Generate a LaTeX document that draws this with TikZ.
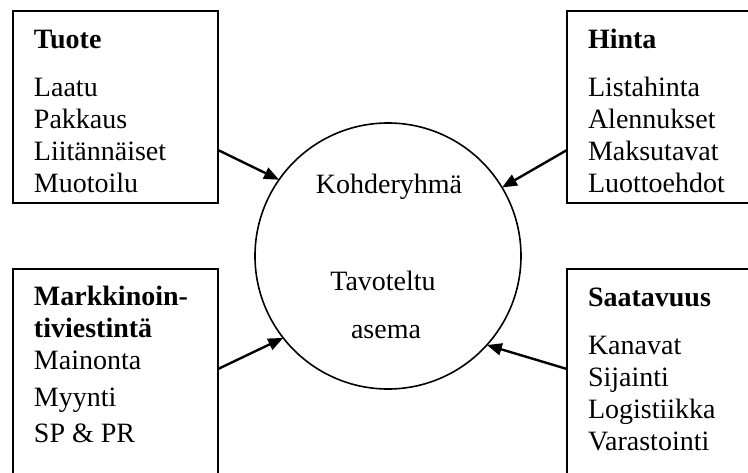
\documentclass[tikz,border=0pt]{standalone}
\usepackage{fontspec}
\setmainfont{Liberation Serif}
\usetikzlibrary{calc,arrows.meta}

\tikzset{
  panel/.style={draw, line width=1.8pt, rectangle, inner sep=0pt, outer sep=0pt, anchor=north west},
  core/.style={draw, line width=1.6pt, circle, inner sep=0pt, outer sep=0pt, minimum size=266pt},
  body/.style={inner sep=0pt, outer sep=0pt, anchor=base west, font=\fontsize{28}{32}\selectfont},
  mid/.style={inner sep=0pt, outer sep=0pt, anchor=base, font=\fontsize{28}{32}\selectfont},
  feed/.style={line width=2.4pt, -{Triangle[length=15pt,width=12pt]}}
}

\newcommand{\listbox}[1]{\parbox[t]{200pt}{\raggedright #1}}

\begin{document}
\begin{tikzpicture}[x=1pt, y=-1pt]
  \useasboundingbox (0,0) rectangle (748,472);
  \clip (0,0) rectangle (748,472);

  % the four surrounding boxes
  \node[panel, minimum width=205pt, minimum height=192pt] (tuote) at (13,11) {};
  \node[panel, minimum width=190pt, minimum height=192pt] (hinta) at (567,11) {};
  \node[panel, minimum width=205pt, minimum height=215pt] (mark) at (13,269) {};
  \node[panel, minimum width=190pt, minimum height=215pt] (saat) at (567,269) {};

  % their contents
  \node[body] (tuote-txt) at (34,48) {\listbox{\textbf{Tuote}\\[16.7pt]Laatu\\Pakkaus\\Liitännäiset\\Muotoilu}};
  \node[body] (hinta-txt) at (588,48) {\listbox{\textbf{Hinta}\\[16.7pt]Listahinta\\Alennukset\\Maksutavat\\Luottoehdot}};
  \node[body] (mark-txt) at (34,305) {\listbox{\textbf{Markkinoin-}\\\textbf{tiviestintä}\\Mainonta\\[5pt]Myynti\\[4pt]SP \& PR}};
  \node[body] (saat-txt) at (588,306) {\listbox{\textbf{Saatavuus}\\[16pt]Kanavat\\Sijainti\\Logistiikka\\Varastointi}};

  % central circle
  \node[core] (circ) at (388,256) {};
  \node[mid] (kohde) at (389,193) {Kohderyhmä};
  \node[mid] (tavo) at (383,290) {Tavoteltu};
  \node[mid] (asema) at (386,338) {asema};

  % connectors into the circle
  \coordinate (t-out) at ($(tuote.north east)+(0,139)$);
  \coordinate (h-out) at ($(hinta.north west)+(0,139)$);
  \coordinate (m-out) at ($(mark.north east)+(0,100)$);
  \coordinate (s-out) at ($(saat.north west)+(0,100)$);

  \draw[feed] (t-out) -- (circ.145.4);
  \draw[feed] (h-out) -- (circ.31.7);
  \draw[feed] (m-out) -- (circ.218.5);
  \draw[feed] (s-out) -- (circ.-42.3);
\end{tikzpicture}
\end{document}
